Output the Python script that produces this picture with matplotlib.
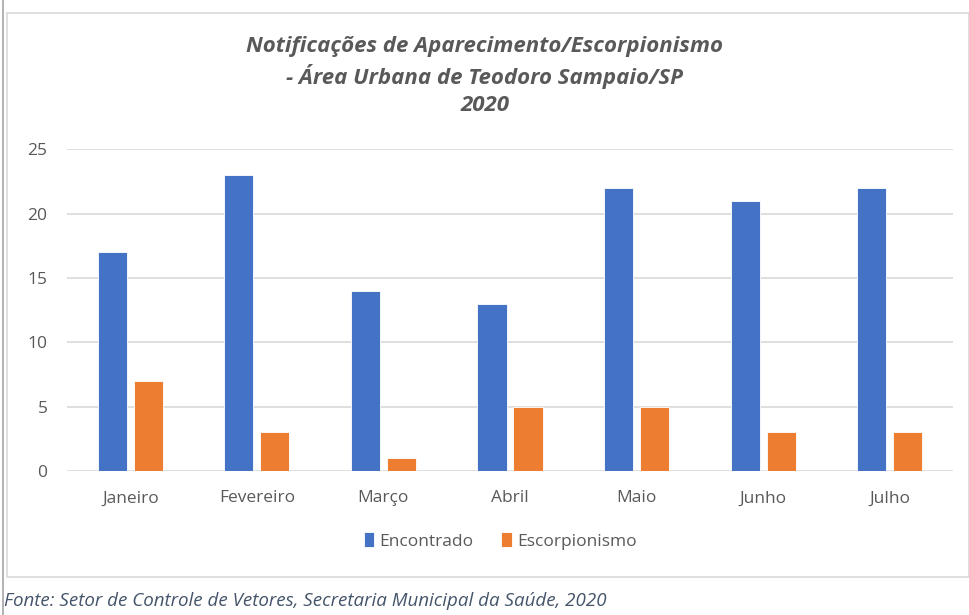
import matplotlib
matplotlib.use("Agg")
import matplotlib.pyplot as plt
import numpy as np
from matplotlib.patches import Rectangle
from matplotlib.lines import Line2D

MONTHS = ["Janeiro", "Fevereiro", "Março", "Abril", "Maio", "Junho", "Julho"]
ENCONTRADO = [17, 23, 14, 13, 22, 21, 22]
ESCORPIONISMO = [7, 3, 1, 5, 5, 3, 3]
YTICKS = [0, 5, 10, 15, 20, 25]

BLUE = "#4472C4"
ORANGE = "#ED7D31"
TEXT = "#595959"
FONT = ["Open Sans", "DejaVu Sans"]

plt.rcParams["font.family"] = FONT

W, H = 970, 615
fig = plt.figure(figsize=(W / 100, H / 100), dpi=100)
fig.patch.set_facecolor("white")

# chart frame + outer left rule
fig.add_artist(Rectangle((7 / W, 1 - 577 / H), (W - 8) / W, (577 - 13) / H,
                         transform=fig.transFigure, fill=False,
                         edgecolor="#d9d9d9", linewidth=1.2))
fig.add_artist(Line2D([3 / W, 3 / W], [0, 1], transform=fig.transFigure,
                      color="#a6a6a6", linewidth=1.2))

ax = fig.add_axes([67 / W, 1 - 471 / H, (953 - 67) / W, (471 - 149.3) / H])
x = np.arange(len(MONTHS))
bw = 0.23
gap = 0.055
b1 = ax.bar(x - (bw + gap) / 2, ENCONTRADO, bw, color=BLUE,
            edgecolor="white", linewidth=0.6, label="Encontrado", zorder=3)
b2 = ax.bar(x + (bw + gap) / 2, ESCORPIONISMO, bw, color=ORANGE,
            edgecolor="white", linewidth=0.6, label="Escorpionismo", zorder=3)

ax.set_xlim(-0.5, len(MONTHS) - 0.5)
ax.set_ylim(0, 25)
ax.set_yticks(YTICKS)
ax.set_xticks(x)
ax.set_xticklabels(MONTHS)
ax.tick_params(axis="both", length=0, labelsize=12.5, colors=TEXT)
ax.tick_params(axis="x", pad=14)
ax.tick_params(axis="y", pad=14)
ax.grid(axis="y", color="#d9d9d9", linewidth=1.2, zorder=0)
for s in ax.spines.values():
    s.set_visible(False)

fig.text(0.5, 1 - 76 / H,
         "Notificações de Aparecimento/Escorpionismo\n"
         "- Área Urbana de Teodoro Sampaio/SP\n2020",
         ha="center", va="center", fontsize=16, fontweight="bold",
         fontstyle="italic", color=TEXT, linespacing=1.35)

fig.legend(handles=[b1, b2], loc="center", bbox_to_anchor=(500 / W, 1 - 541 / H),
           ncol=2, frameon=False, fontsize=12.5, labelcolor=TEXT,
           handlelength=0.6, handleheight=0.9, handletextpad=0.3,
           columnspacing=1.6)

fig.text(4 / W, 1 - 601 / H,
         "Fonte: Setor de Controle de Vetores, Secretaria Municipal da Saúde, 2020",
         ha="left", va="center", fontsize=13.5, fontstyle="italic", color="#44546A")

fig.savefig("out.png", dpi=100, facecolor="white")
